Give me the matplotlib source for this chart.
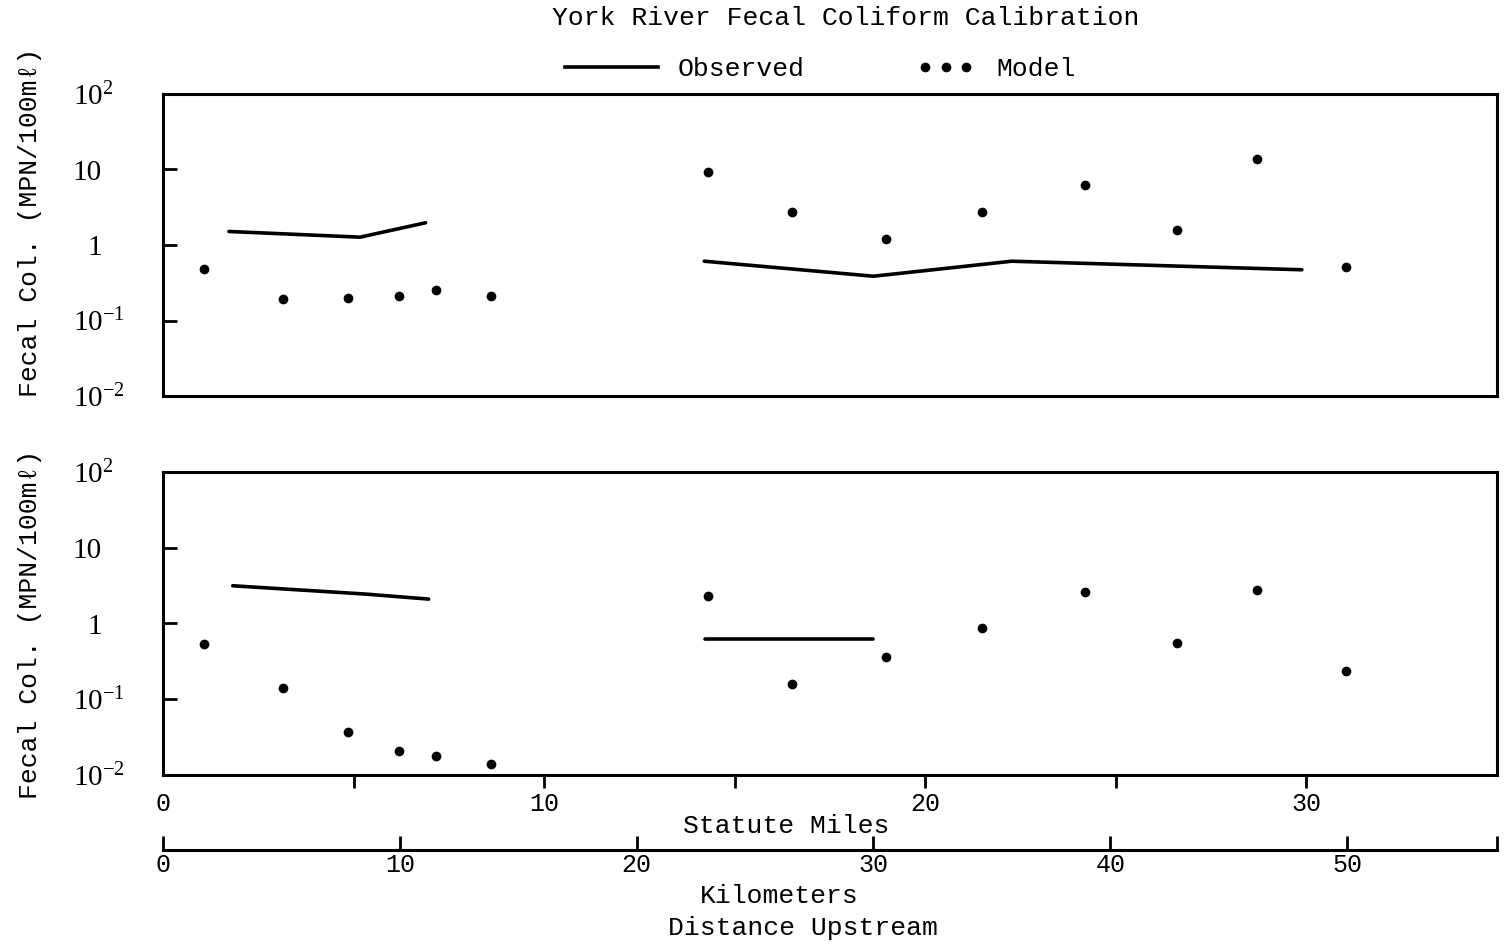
import numpy as np
import matplotlib
matplotlib.use('Agg')
import matplotlib.pyplot as plt
from matplotlib.lines import Line2D
from matplotlib.legend_handler import HandlerLine2D
from matplotlib.transforms import ScaledTranslation

# ---------------- data ----------------
model_miles = [1.08, 3.14, 4.86, 6.19, 7.16, 8.6, 14.3, 16.5, 18.96, 21.5, 24.2, 26.6, 28.7, 31.03]
model_top = [0.48, 0.19, 0.20, 0.21, 0.255, 0.21, 9.4, 2.72, 1.21, 2.72, 6.14, 1.56, 13.6, 0.51]
model_bottom = [0.54, 0.139, 0.037, 0.021, 0.018, 0.014, 2.32, 0.158, 0.356, 0.87, 2.62, 0.56, 2.79, 0.237]

obs_top_seg1_miles = [1.73, 5.17, 6.89]
obs_top_seg1 = [1.51, 1.27, 1.97]
obs_top_seg2_miles = [14.2, 18.64, 22.27, 29.88]
obs_top_seg2 = [0.61, 0.386, 0.61, 0.47]

obs_bot_seg1_miles = [1.83, 5.34, 6.97]
obs_bot_seg1 = [3.15, 2.44, 2.1]
obs_bot_seg2_miles = [14.23, 18.64]
obs_bot_seg2 = [0.615, 0.615]

y_ticks = [0.01, 0.1, 1, 10, 100]
y_tick_labels = [r'$\mathregular{10^{-2}}$', r'$\mathregular{10^{-1}}$', '1', '10', r'$\mathregular{10^{2}}$']
mile_ticks = [0, 5, 10, 15, 20, 25, 30]
mile_tick_labels = ['0', '', '10', '', '20', '', '30']
km_ticks = [0, 10, 20, 30, 40, 50]
km_tick_labels = ['0', '10', '20', '30', '40', '50']
MI_TO_KM = 1.609344
X_MAX_MILES = 35

title = 'York River Fecal Coliform Calibration'
ylabel = 'Fecal Col. (MPN/100mℓ)'

# ---------------- style ----------------
MONO = ['Liberation Mono', 'DejaVu Sans Mono']
SERIF = ['Liberation Serif', 'DejaVu Serif']
W, H = 1504, 946
plt.rcParams['font.family'] = MONO

fig = plt.figure(figsize=(W / 100, H / 100), dpi=100)

def fx(px):
    return px / W

def fy(py):
    return 1 - py / H

LW_SPINE = 2.2
MS = 7
ax1 = fig.add_axes([fx(163), fy(396), fx(1334), 302 / H])
ax2 = fig.add_axes([fx(163), fy(775), fx(1334), 303 / H])

for ax, mvals, s1x, s1, s2x, s2 in [
        (ax1, model_top, obs_top_seg1_miles, obs_top_seg1, obs_top_seg2_miles, obs_top_seg2),
        (ax2, model_bottom, obs_bot_seg1_miles, obs_bot_seg1, obs_bot_seg2_miles, obs_bot_seg2)]:
    ax.set_yscale('log')
    ax.set_xlim(0, X_MAX_MILES)
    ax.set_ylim(0.01, 100)
    ax.plot(s1x, s1, color='black', lw=2.6, solid_capstyle='round')
    ax.plot(s2x, s2, color='black', lw=2.6, solid_capstyle='round')
    ax.plot(model_miles, mvals, 'o', color='black', ms=MS, mew=0)
    for sp in ax.spines.values():
        sp.set_linewidth(LW_SPINE)
    ax.set_yticks(y_ticks)
    ax.set_yticklabels(y_tick_labels, family=SERIF, fontsize=21)
    ax.yaxis.set_minor_locator(matplotlib.ticker.NullLocator())
    ax.tick_params(axis='y', direction='in', length=10, width=2, pad=44)
    yt = ax.yaxis.get_major_ticks()
    yt[0].tick1line.set_visible(False)
    yt[-1].tick1line.set_visible(False)

ax1.set_xticks([])
ax2.set_xticks(mile_ticks)
ax2.set_xticklabels(mile_tick_labels, fontsize=18, family=MONO)
ax2.tick_params(axis='x', direction='out', length=9, width=2, pad=3)
ax2.xaxis.get_major_ticks()[0].tick1line.set_visible(False)

# kilometre axis
ax3 = fig.add_axes([fx(163), fy(850), fx(1334), 0.001])
ax3.set_xlim(0, X_MAX_MILES * MI_TO_KM)
ax3.set_ylim(0, 1)
ax3.patch.set_visible(False)
for s in ['top', 'left', 'right']:
    ax3.spines[s].set_visible(False)
ax3.spines['bottom'].set_linewidth(LW_SPINE)
ax3.set_yticks([])
ax3.set_xticks(km_ticks + [X_MAX_MILES * MI_TO_KM])
ax3.set_xticklabels(km_tick_labels + [''], fontsize=18, family=MONO)
ax3.tick_params(axis='x', direction='in', length=10, width=2, pad=2)

# texts
fig.text(fx(846), fy(18), title, ha='center', va='center', fontsize=19, family=MONO)
fig.text(fx(30), fy(222), ylabel, rotation=90, ha='center', va='center', fontsize=19, family=MONO)
fig.text(fx(30), fy(624), ylabel, rotation=90, ha='center', va='center', fontsize=19, family=MONO)
fig.text(fx(786), fy(826), 'Statute Miles', ha='center', va='center', fontsize=19, family=MONO)
fig.text(fx(779), fy(896), 'Kilometers', ha='center', va='center', fontsize=19, family=MONO)
fig.text(fx(803), fy(928), 'Distance Upstream', ha='center', va='center', fontsize=19, family=MONO)

# legend (two pieces, as in the original)
h_obs = Line2D([], [], color='black', lw=2.6)
h_mod = Line2D([], [], color='black', ls='none', marker='o', ms=MS, mew=0)
leg1 = fig.legend([h_obs], ['Observed'], loc='center left',
                  bbox_to_anchor=(fx(565), fy(69)), frameon=False,
                  prop={'family': MONO, 'size': 19}, handlelength=3.52, handletextpad=0.76,
                  borderpad=0, borderaxespad=0)
fig.legend([h_mod], ['Model'], loc='center left',
           bbox_to_anchor=(fx(917), fy(69)), frameon=False,
           prop={'family': MONO, 'size': 19}, handlelength=2.16, handletextpad=0.85,
           borderpad=0, borderaxespad=0,
           handler_map={h_mod: HandlerLine2D(numpoints=3, marker_pad=0.3)})

# shift superscripted y tick labels so that the "10" bases align
fig.canvas.draw()
r = fig.canvas.get_renderer()
for ax in (ax1, ax2):
    for lab in ax.get_yticklabels():
        t = lab.get_text()
        if '^' in t:
            full = lab.get_window_extent(r).width
            tmp = fig.text(0, 0, '10', fontproperties=lab.get_fontproperties())
            base = tmp.get_window_extent(r).width
            tmp.remove()
            dx = (full - base) / fig.dpi
            lab.set_transform(lab.get_transform() + ScaledTranslation(dx, 0, fig.dpi_scale_trans))

fig.savefig('out.png', dpi=100)
